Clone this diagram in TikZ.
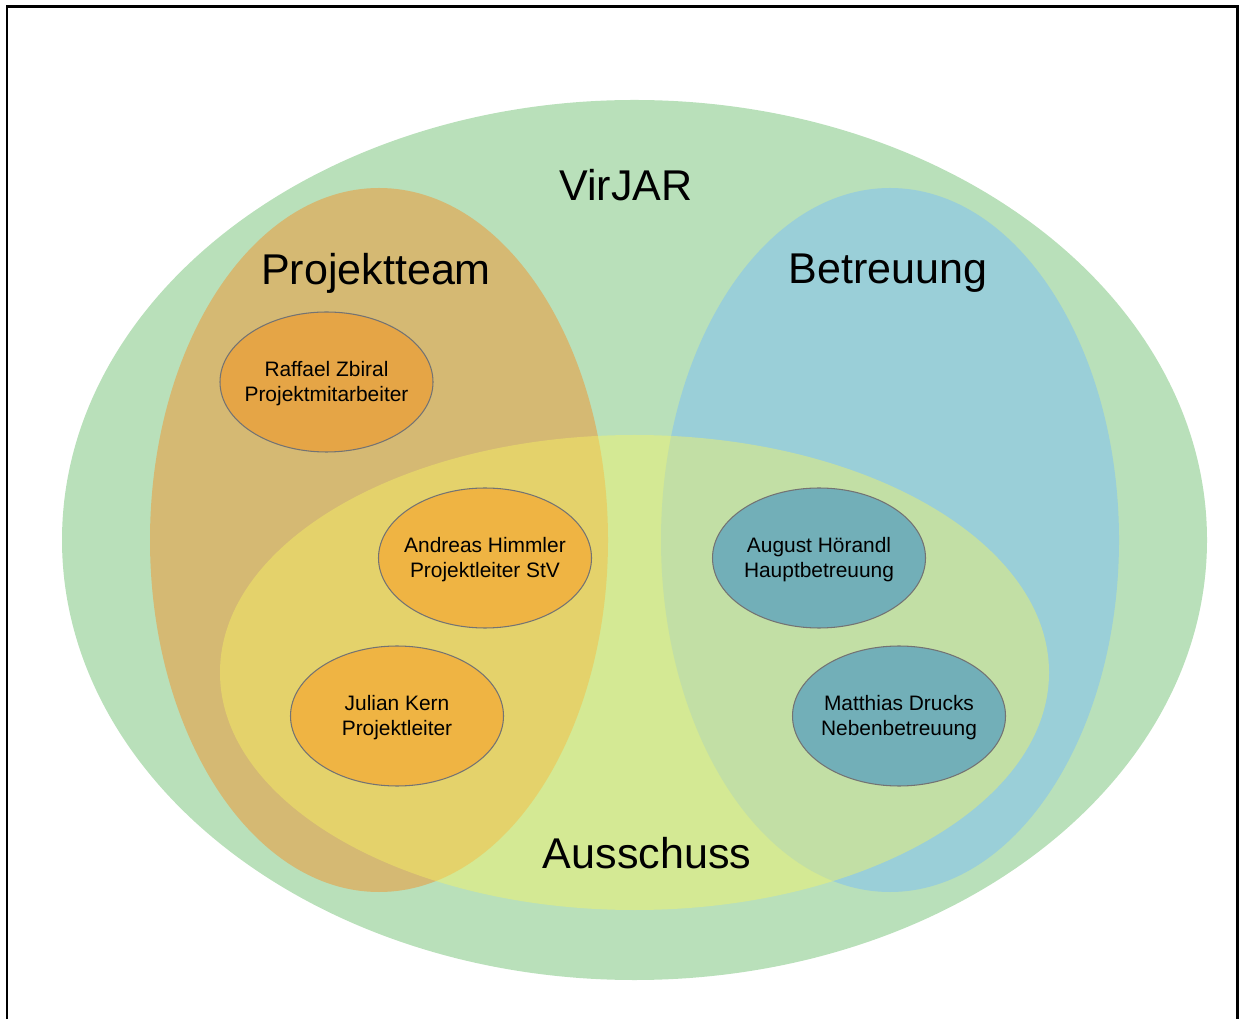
\documentclass[tikz,border=0pt]{standalone}
\usepackage{fontspec}
\setmainfont{Liberation Sans}
\usetikzlibrary{shapes.geometric}
\definecolor{vgreen}{RGB}{185,224,186}
\definecolor{tbrown}{RGB}{213,185,115}
\definecolor{bblue}{RGB}{154,207,216}
\definecolor{ayellow}{RGB}{248,245,98}
\definecolor{porange}{RGB}{229,165,70}
\definecolor{lorange}{RGB}{239,180,67}
\definecolor{pteal}{RGB}{114,175,184}
\tikzset{
    %Define style for the large sets
    region/.style={
		ellipse,
		inner sep=0pt,
		draw=none},
    %Define style for the people
	person/.style={
		ellipse,
		draw=black!55, line width=0.6pt,
		minimum width=4.26cm,
		minimum height=2.8cm,
		inner sep=0pt},
	%Define style for the names inside
	personname/.style={
		inner sep=0pt,
		yshift=-1pt,
		align=center,
		font=\fontsize{11.9}{14.2}\selectfont},
	%Define style for set names
	title/.style={
		inner sep=0pt,
		font=\fontsize{24.5}{29}\selectfont}
}
\begin{document}
\begin{tikzpicture}
	\useasboundingbox (0,0) rectangle (24.78,20.38);
	\draw[line width=1.7pt] (0.14,0) -- (0.14,20.24) -- (24.74,20.24) -- (24.74,0);
	\node[region, fill=vgreen, minimum width=22.9cm, minimum height=17.6cm] (virjar) at (12.69,9.58) {};
	\node[region, fill=tbrown, minimum width=9.16cm, minimum height=14.08cm] (team) at (7.58,9.58) {};
	\node[region, fill=bblue, minimum width=9.16cm, minimum height=14.08cm] (betreuung) at (17.8,9.58) {};
	\node[region, fill=ayellow, fill opacity=0.43, minimum width=16.58cm, minimum height=9.5cm] (ausschuss) at (12.69,6.93) {};
	\node[title] (virjarlabel) at (12.52,16.68) {VirJAR};
	\node[title] (teamlabel) at (7.52,14.92) {Projektteam};
	\node[title] (betreuunglabel) at (17.76,14.92) {Betreuung};
	\node[title] (ausschusslabel) at (12.94,3.32) {Ausschuss};
	\node[person, fill=porange, label={[personname]center:Raffael Zbiral\\Projektmitarbeiter}] (zbiral) at (6.53,12.74) {};
	\node[person, fill=lorange, label={[personname]center:Andreas Himmler\\Projektleiter StV}] (himmler) at (9.7,9.22) {};
	\node[person, fill=lorange, label={[personname]center:Julian Kern\\Projektleiter}] (kern) at (7.94,6.06) {};
	\node[person, fill=pteal, label={[personname]center:August Hörandl\\Hauptbetreuung}] (hoerandl) at (16.38,9.22) {};
	\node[person, fill=pteal, label={[personname]center:Matthias Drucks\\Nebenbetreuung}] (drucks) at (17.98,6.06) {};
\end{tikzpicture}
\end{document}
